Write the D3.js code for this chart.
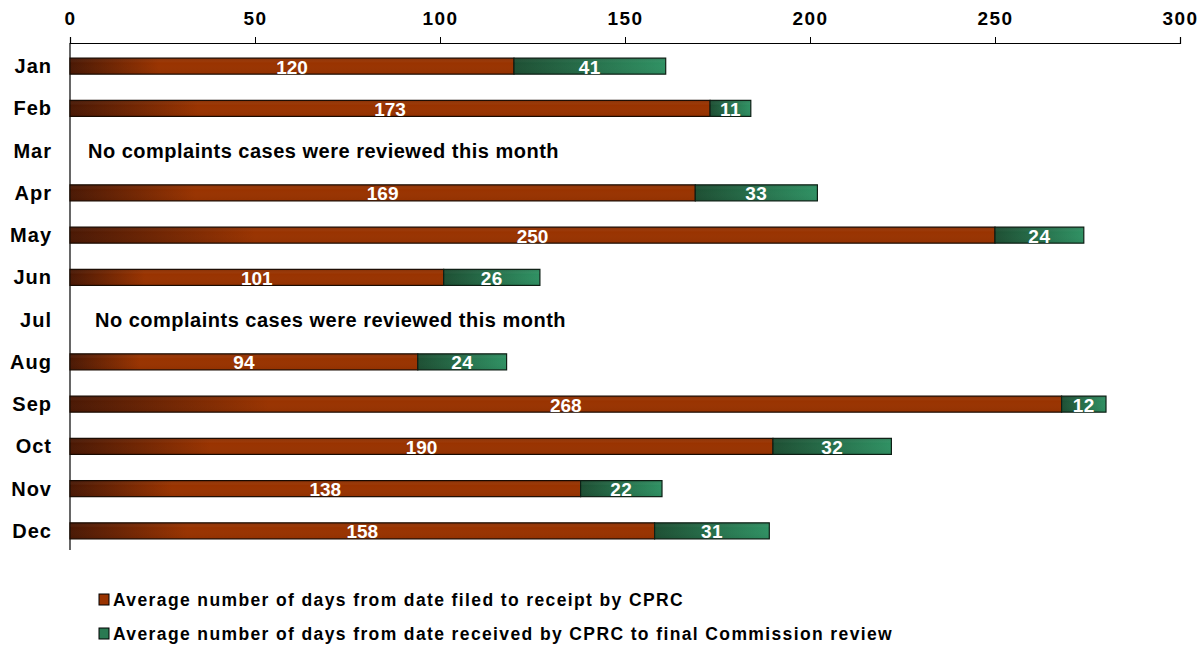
<!DOCTYPE html>
<html>
<head>
<meta charset="utf-8">
<script src="https://cdn.jsdelivr.net/npm/d3@7"></script>
<style>
  body { margin: 0; background: #fff; }
  svg { font-family: Arial, "Liberation Sans", sans-serif; font-weight: bold; }
</style>
</head>
<body>
<svg width="1204" height="649"></svg>
<script>
const months = ["Jan", "Feb", "Mar", "Apr", "May", "Jun", "Jul", "Aug", "Sep", "Oct", "Nov", "Dec"];
const daysToReceipt = [120, 173, null, 169, 250, 101, null, 94, 268, 190, 138, 158];
const daysToReview = [41, 11, null, 33, 24, 26, null, 24, 12, 32, 22, 31];
const xTicks = [0, 50, 100, 150, 200, 250, 300];
const seriesNames = [
  "Average number of days from date filed to receipt by CPRC",
  "Average number of days from date received by CPRC to final Commission review"
];
const noDataText = "No complaints cases were reviewed this month";

const svg = d3.select("svg");
const margin = { top: 43, left: 70 };
const innerWidth = 1110;
const innerHeight = 507;

const defs = svg.append("defs");
const red = defs.append("linearGradient").attr("id", "redGrad");
red.append("stop").attr("offset", "0%").attr("stop-color", "#4a1804");
red.append("stop").attr("offset", "20%").attr("stop-color", "#993300");
red.append("stop").attr("offset", "100%").attr("stop-color", "#993300");

const green = defs.append("linearGradient").attr("id", "greenGrad");
green.append("stop").attr("offset", "0%").attr("stop-color", "#1d4f33");
green.append("stop").attr("offset", "100%").attr("stop-color", "#2f9163");

const shine = defs.append("linearGradient").attr("id", "shine")
  .attr("x1", 0).attr("y1", 0).attr("x2", 0).attr("y2", 1);
shine.append("stop").attr("offset", "0%").attr("stop-color", "#000").attr("stop-opacity", 0.15);
shine.append("stop").attr("offset", "30%").attr("stop-color", "#fff").attr("stop-opacity", 0.0);
shine.append("stop").attr("offset", "100%").attr("stop-color", "#000").attr("stop-opacity", 0.05);

const g = svg.append("g").attr("transform", `translate(${margin.left}, ${margin.top})`);

const x = d3.scaleLinear().domain([0, 300]).range([0, innerWidth]);
const y = d3.scaleBand().domain(months).range([2, innerHeight + 2]).paddingInner(0.62).paddingOuter(0.31);

// top axis
const xAxis = g.append("g")
  .call(d3.axisTop(x).tickValues(xTicks).tickSize(6).tickPadding(12).tickFormat(d3.format("d")));
xAxis.select(".domain").attr("stroke", "#000").attr("stroke-width", 1.2);
xAxis.selectAll(".tick line").attr("stroke", "#000");
xAxis.selectAll("text").attr("font-size", 19).attr("letter-spacing", 1.5).attr("font-weight", "bold").attr("fill", "#000")
  .attr("font-family", "Arial, 'Liberation Sans', sans-serif");

// left axis line
g.append("line").attr("x1", 0).attr("x2", 0).attr("y1", 0).attr("y2", innerHeight)
  .attr("stroke", "#000").attr("stroke-width", 1.2);

// month labels
g.selectAll(".month").data(months).join("text")
  .attr("x", -18).attr("y", d => y(d) + y.bandwidth() / 2)
  .attr("text-anchor", "end").attr("dominant-baseline", "central")
  .attr("font-size", 20).attr("letter-spacing", 1).attr("fill", "#000").text(d => d);

const rows = months.map((m, i) => ({ m, a: daysToReceipt[i], b: daysToReview[i] }));

rows.filter(r => r.a === null).forEach(r => {
  g.append("text").attr("x", r.m === "Mar" ? 18 : 25).attr("y", y(r.m) + y.bandwidth() / 2)
    .attr("dominant-baseline", "central").attr("font-size", 20).attr("letter-spacing", 0.5)
    .attr("fill", "#000").text(noDataText);
});

const data = rows.filter(r => r.a !== null);

// first segment
const segA = g.selectAll(".segA").data(data).join("g");
segA.append("rect").attr("x", x(0)).attr("y", d => y(d.m))
  .attr("width", d => x(d.a) - x(0)).attr("height", y.bandwidth())
  .attr("fill", "url(#redGrad)").attr("stroke", "#1a0a00").attr("stroke-width", 1.2);
segA.append("rect").attr("x", x(0)).attr("y", d => y(d.m))
  .attr("width", d => x(d.a) - x(0)).attr("height", y.bandwidth()).attr("fill", "url(#shine)");
segA.append("text").attr("x", d => x(d.a / 2)).attr("y", d => y(d.m) + y.bandwidth() / 2 + 1)
  .attr("text-anchor", "middle").attr("dominant-baseline", "central")
  .attr("font-size", 19).attr("fill", "#fff").text(d => d.a);

// second segment
const segB = g.selectAll(".segB").data(data).join("g");
segB.append("rect").attr("x", d => x(d.a)).attr("y", d => y(d.m))
  .attr("width", d => x(d.a + d.b) - x(d.a)).attr("height", y.bandwidth())
  .attr("fill", "url(#greenGrad)").attr("stroke", "#0d1f14").attr("stroke-width", 1.2);
segB.append("rect").attr("x", d => x(d.a)).attr("y", d => y(d.m))
  .attr("width", d => x(d.a + d.b) - x(d.a)).attr("height", y.bandwidth()).attr("fill", "url(#shine)");
segB.append("text").attr("x", d => x(d.a + d.b / 2)).attr("y", d => y(d.m) + y.bandwidth() / 2 + 1)
  .attr("text-anchor", "middle").attr("dominant-baseline", "central")
  .attr("font-size", 19).attr("letter-spacing", 0.5).attr("fill", "#fff").text(d => d.b);

// legend
const legend = svg.append("g").attr("transform", "translate(99, 600)");
const solid = ["#993300", "#2a7a52"];
seriesNames.forEach((name, i) => {
  const row = legend.append("g").attr("transform", `translate(0, ${i * 34})`);
  row.append("rect").attr("x", 0).attr("y", -6).attr("width", 10).attr("height", 11)
    .attr("fill", solid[i]).attr("stroke", "#000").attr("stroke-width", 1);
  row.append("text").attr("x", 14).attr("y", 0).attr("dominant-baseline", "central")
    .attr("font-size", 17.5).attr("letter-spacing", 1.38).attr("fill", "#000").text(name);
});
</script>
</body>
</html>
